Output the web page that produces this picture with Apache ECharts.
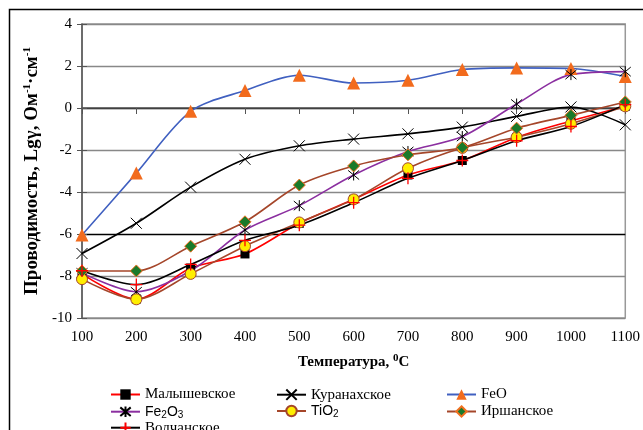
<!DOCTYPE html>
<html>
<head>
<meta charset="utf-8">
<script src="https://cdn.jsdelivr.net/npm/echarts@6/dist/echarts.min.js"></script>
<style>
  html, body { margin: 0; padding: 0; background: #fff; }
  #chart { width: 643px; height: 430px; }
</style>
</head>
<body>
<div id="chart"></div>
<script>
// температура, °C
const temps = [100, 200, 300, 400, 500, 600, 700, 800, 900, 1000, 1100];

// проводимость, Lg γ
const malyshevskoe = [-7.9, -9.1, -7.62, -6.95, -5.49, -4.35, -3.19, -2.5, -1.4, -0.62, 0.08];
const kuranakhskoe = [-6.93, -5.49, -3.77, -2.44, -1.8, -1.48, -1.23, -0.91, -0.4, 0.05, -0.8];
const feo = [-6.05, -3.1, -0.16, 0.83, 1.56, 1.19, 1.32, 1.83, 1.91, 1.88, 1.5];
const fe2o3 = [-7.85, -8.75, -7.75, -5.81, -4.65, -3.19, -2.07, -1.36, 0.19, 1.59, 1.73];
const tio2 = [-8.15, -9.11, -7.9, -6.58, -5.45, -4.35, -2.87, -1.9, -1.39, -0.75, 0.08];
const irshanskoe = [-7.76, -7.76, -6.58, -5.42, -3.67, -2.76, -2.23, -1.88, -0.96, -0.35, 0.29];
const volchanskoe = [-7.75, -8.41, -7.45, -6.3, -5.58, -4.51, -3.35, -2.5, -1.56, -0.88, 0.16];

const serif = 'Liberation Serif';
const pairs = (arr) => temps.map((t, i) => [t, arr[i]]);

const symX = 'path://M0,0L10,10M10,0L0,10';
const symStar = 'path://M0,0L10,10M10,0L0,10M5,-1L5,11';
const symPlus = 'path://M5,0L5,10M0,5L10,5';

function line(name, data, lineColor, symbol, size, fill, border, bw) {
  return {
    name: name,
    type: 'line',
    smooth: 0.3,
    data: pairs(data),
    symbol: symbol,
    symbolSize: size,
    lineStyle: { color: lineColor, width: 1.6 },
    itemStyle: { color: fill, borderColor: border, borderWidth: bw },
    z: 3
  };
}

const chart = echarts.init(document.getElementById('chart'));

// одна легенда на каждую запись, чтобы сетка 3 колонки не ломалась
function legendAt(name, left, top) {
  return {
    left: left,
    top: top,
    itemWidth: 29,
    itemHeight: 13,
    data: [name],
    textStyle: {
      fontFamily: serif,
      fontSize: 15,
      color: '#000',
      rich: {
        n: { fontFamily: 'Liberation Sans', fontSize: 14, color: '#000' },
        s: { fontFamily: 'Liberation Sans', fontSize: 10, color: '#000', padding: [7, 0, 0, 0] }
      }
    },
    formatter: function (n) {
      if (n === 'Fe2O3') return '{n|Fe}{s|2}{n|O}{s|3}';
      if (n === 'TiO2') return '{n|TiO}{s|2}';
      return n;
    }
  };
}

const supStyle = (size) => ({
  a: { fontFamily: serif, fontSize: size, fontWeight: 'bold', color: '#000' },
  s: { fontFamily: serif, fontSize: 11, fontWeight: 'bold', color: '#000', padding: [0, 0, 8, 0] }
});

chart.setOption({
  animation: false,
  backgroundColor: '#fff',
  graphic: [{
    type: 'rect',
    shape: { x: 9.5, y: 9.5, width: 700, height: 500 },
    style: { fill: 'none', stroke: '#000', lineWidth: 1.5 },
    silent: true
  }],
  grid: {
    left: 82, right: 16, top: 24, bottom: 112,
    show: true, borderColor: '#999', borderWidth: 1.5
  },
  legend: [
    legendAt('Малышевское', 105, 382),
    legendAt('Fe2O3', 105, 399),
    legendAt('Волчанское', 105, 415),
    legendAt('Куранахское', 271, 382),
    legendAt('TiO2', 271, 399),
    legendAt('FeO', 441, 382),
    legendAt('Иршанское', 441, 399)
  ],
  xAxis: {
    type: 'value',
    min: 100, max: 1100, interval: 100,
    name: '{a|Температура, }{s|0}{a|C}',
    nameLocation: 'middle',
    nameGap: 35,
    nameTextStyle: { rich: supStyle(15) },
    axisLine: { lineStyle: { color: '#555', width: 1.5 } },
    axisTick: { show: true, length: 6, lineStyle: { color: '#555' } },
    axisLabel: {
      fontFamily: serif, fontSize: 15, color: '#000', margin: 12,
      formatter: (v) => String(v)
    },
    splitLine: { show: false }
  },
  yAxis: [{
    type: 'value',
    min: -10, max: 4, interval: 2,
    name: '{a|Проводимость, Lgγ, Ом}{s|-1}{a|·см}{s|-1}',
    nameLocation: 'middle',
    nameGap: 36,
    nameTextStyle: { rich: supStyle(19) },
    axisLine: { show: true, lineStyle: { color: '#555', width: 1.5 } },
    axisTick: { show: true, length: 5, lineStyle: { color: '#555' } },
    axisLabel: { fontFamily: serif, fontSize: 15, color: '#000', margin: 10 },
    splitLine: {
      show: true,
      lineStyle: {
        width: 1.3,
        color: ['#888', '#888', '#000', '#888', '#888', '#000', '#888', '#888']
      }
    }
  }, {
    // внутренние засечки оси Y (в оригинале засечки пересекают ось)
    type: 'value',
    position: 'left',
    min: -10, max: 4, interval: 2,
    axisLine: { show: false },
    axisTick: { show: true, inside: true, length: 5, lineStyle: { color: '#555' } },
    axisLabel: { show: false },
    splitLine: { show: false }
  }],
  series: [
    line('Малышевское', malyshevskoe, '#ff0000', 'rect', 9, '#000', '#000', 0),
    line('Куранахское', kuranakhskoe, '#000', symX, 11, 'none', '#000', 1),
    line('FeO', feo, '#4060c0', 'triangle', 13, '#f26b1d', '#f26b1d', 0),
    line('Fe2O3', fe2o3, '#8b2fa0', symStar, 11, 'none', '#000', 1),
    line('TiO2', tio2, '#a5462a', 'circle', 11, '#ffee00', '#a5462a', 1),
    line('Иршанское', irshanskoe, '#a5462a', 'diamond', 12, '#1a7a2a', '#f07020', 1),
    line('Волчанское', volchanskoe, '#000', symPlus, 12, 'none', '#ff0000', 1.3)
  ]
});
</script>
</body>
</html>
